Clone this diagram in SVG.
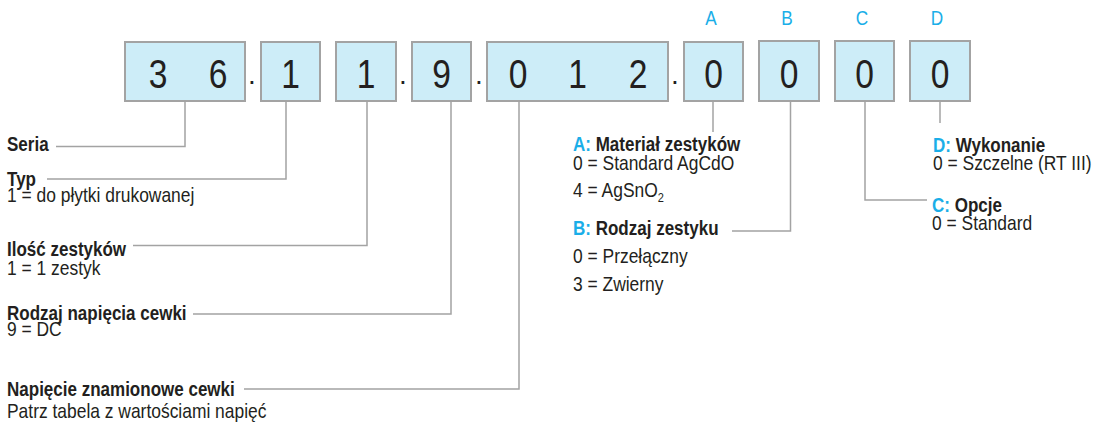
<svg xmlns="http://www.w3.org/2000/svg" width="1096" height="425" viewBox="0 0 1096 425">
<style>
.box{fill:#cdedf8;stroke:#a3a3a3;stroke-width:2}
.dig{font-family:"Liberation Sans",Arial,sans-serif;font-size:41px;fill:#231f20;text-anchor:middle}
.dot{font-family:"Liberation Sans",Arial,sans-serif;font-size:28px;fill:#231f20;text-anchor:middle}
.let{font-family:"Liberation Sans",Arial,sans-serif;font-size:21px;fill:#1aaee8;text-anchor:middle}
.t{font-family:"Liberation Sans",Arial,sans-serif;font-size:20.5px;fill:#231f20}
.b{font-weight:bold}
.blue{fill:#1aaee8}
.con{fill:none;stroke:#a3a3a3;stroke-width:1.5}
</style>
<g id="node-36"><rect class="box" x="125" y="42" width="120" height="59"/><text class="dig" transform="translate(158,88) scale(.82,1)">3</text><text class="dig" transform="translate(218,88) scale(.82,1)">6</text></g>
<text class="dot" x="252" y="84">.</text>
<g id="node-1a"><rect class="box" x="261" y="42" width="59" height="59"/><text class="dig" transform="translate(290.5,88) scale(.82,1)">1</text></g>
<g id="node-1b"><rect class="box" x="336" y="42" width="60" height="59"/><text class="dig" transform="translate(366,88) scale(.82,1)">1</text></g>
<text class="dot" x="403" y="84">.</text>
<g id="node-9"><rect class="box" x="412" y="42" width="59" height="59"/><text class="dig" transform="translate(441.5,88) scale(.82,1)">9</text></g>
<text class="dot" x="479" y="84">.</text>
<g id="node-012"><rect class="box" x="487" y="42" width="181" height="59"/><text class="dig" transform="translate(518,88) scale(.82,1)">0</text><text class="dig" transform="translate(577.5,88) scale(.82,1)">1</text><text class="dig" transform="translate(638,88) scale(.82,1)">2</text></g>
<text class="dot" x="675" y="84">.</text>
<g id="node-A"><text class="let" transform="translate(711,25) scale(.82,1)">A</text><rect class="box" x="684" y="42" width="59" height="59"/><text class="dig" transform="translate(713.5,88) scale(.82,1)">0</text></g>
<g id="node-B"><text class="let" transform="translate(787,25) scale(.82,1)">B</text><rect class="box" x="759" y="41" width="60" height="60"/><text class="dig" transform="translate(789,88) scale(.82,1)">0</text></g>
<g id="node-C"><text class="let" transform="translate(862,25) scale(.82,1)">C</text><rect class="box" x="835" y="41" width="59" height="60"/><text class="dig" transform="translate(864.5,88) scale(.82,1)">0</text></g>
<g id="node-D"><text class="let" transform="translate(937,25) scale(.82,1)">D</text><rect class="box" x="910" y="41" width="60" height="60"/><text class="dig" transform="translate(940,88) scale(.82,1)">0</text></g>

<g id="connectors">
<polyline class="con" points="185,101 185,146.5 56,146.5"/>
<polyline class="con" points="286,101 286,179 47,179"/>
<polyline class="con" points="367,101 367,245.5 133,245.5"/>
<polyline class="con" points="451,101 451,314 193,314"/>
<polyline class="con" points="519,101 519,389 244,389"/>
<polyline class="con" points="713,101 713,132"/>
<polyline class="con" points="790.5,101 790.5,231 732,231"/>
<polyline class="con" points="865,101 865,200 927,200"/>
<polyline class="con" points="940,101 940,123"/>
</g>

<g id="label-seria"><text class="t b" transform="translate(7,151) scale(.83,1)">Seria</text></g>
<g id="label-typ"><text class="t b" transform="translate(7,186) scale(.83,1)">Typ</text><text class="t" transform="translate(7,202) scale(.85,1)">1 = do płytki drukowanej</text></g>
<g id="label-ilosc"><text class="t b" transform="translate(7,256) scale(.83,1)">Ilość zestyków</text><text class="t" transform="translate(7,275) scale(.85,1)">1 = 1 zestyk</text></g>
<g id="label-rodzaj"><text class="t b" transform="translate(7,320) scale(.83,1)">Rodzaj napięcia cewki</text><text class="t" transform="translate(7,336) scale(.85,1)">9 = DC</text></g>
<g id="label-napiecie"><text class="t b" transform="translate(7,396) scale(.83,1)">Napięcie znamionowe cewki</text><text class="t" transform="translate(7,418) scale(.85,1)">Patrz tabela z wartościami napięć</text></g>
<g id="label-A"><text class="t b" transform="translate(573,151) scale(.83,1)"><tspan class="blue">A:</tspan> Materiał zestyków</text><text class="t" transform="translate(573,170) scale(.85,1)">0 = Standard AgCdO</text><text class="t" transform="translate(573,197) scale(.85,1)">4 = AgSnO<tspan font-size="13" dy="5">2</tspan></text></g>
<g id="label-B"><text class="t b" transform="translate(573,235) scale(.83,1)"><tspan class="blue">B:</tspan> Rodzaj zestyku</text><text class="t" transform="translate(573,263) scale(.85,1)">0 = Przełączny</text><text class="t" transform="translate(573,291) scale(.85,1)">3 = Zwierny</text></g>
<g id="label-C"><text class="t b" transform="translate(932,212) scale(.83,1)"><tspan class="blue">C:</tspan> Opcje</text><text class="t" transform="translate(932,230) scale(.85,1)">0 = Standard</text></g>
<g id="label-D"><text class="t b" transform="translate(933,152) scale(.83,1)"><tspan class="blue">D:</tspan> Wykonanie</text><text class="t" transform="translate(933,170) scale(.85,1)">0 = Szczelne (RT III)</text></g>
</svg>
